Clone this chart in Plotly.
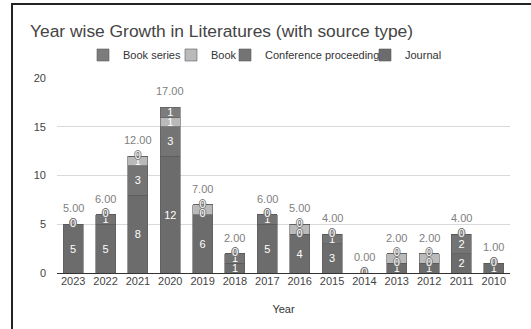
import plotly.graph_objects as go

years = ["2023", "2022", "2021", "2020", "2019", "2018", "2017", "2016", "2015", "2014", "2013", "2012", "2011", "2010"]
journal = [5, 5, 8, 12, 6, 1, 5, 4, 3, 0, 1, 1, 2, 1]
conference = [0, 1, 3, 3, 0, 1, 1, 0, 1, 0, 0, 0, 2, 0]
book = [0, 0, 1, 1, 1, 0, 0, 1, 0, 0, 1, 1, 0, 0]
book_series = [0, 0, 0, 1, 0, 0, 0, 0, 0, 0, 0, 0, 0, 0]
totals = [a + b + c + d for a, b, c, d in zip(journal, conference, book, book_series)]

FONT = "Liberation Sans, Arial, sans-serif"
pos = list(range(len(years)))
W, H = 531, 329
ml, mr, mt, mb = 57, 21, 78, 56
pw, ph = W - ml - mr, H - mt - mb
def px_x(p): return (p - ml) / pw
def px_y(p): return (H - mb - p) / ph

# (name, values, colour, legend id, legend text start px)
series = [
    ("Journal", journal, "#6c6c6c", "legend4", 407),
    ("Conference proceeding", conference, "#747474", "legend3", 267),
    ("Book", book, "#bababa", "legend2", 213),
    ("Book series", book_series, "#7c7c7c", "legend", 125),
]

fig = go.Figure()
for name, vals, color, leg, tx in series:
    fig.add_trace(go.Bar(
        x=pos, y=vals, name=name, marker=dict(color=color, line=dict(width=0.6, color="#5a5a5a")),
        text=[str(v) if v > 0 else "" for v in vals],
        textposition="inside", insidetextanchor="middle", textangle=0,
        constraintext="none",
        textfont=dict(color="white", size=11, family=FONT),
        legend=leg, hoverinfo="skip",
    ))

# zero-value segment labels at the stack position where they occur
zx, zy = [], []
for i in pos:
    cum = 0
    for s in series:
        vals = s[1]
        if vals[i] == 0:
            zx.append(i)
            zy.append(cum)
        cum += vals[i]
fig.add_trace(go.Scatter(
    x=zx, y=zy, mode="text", text=["0"] * len(zx), showlegend=False,
    textposition="middle center",
    textfont=dict(color="white", size=11, family=FONT,
                  shadow="1px 0px 0 #777, -1px 0px 0 #777, 0px 1px 0 #777, 0px -1px 0 #777"),
    hoverinfo="skip",
))

annotations = []
for i, t in zip(pos, totals):
    annotations.append(dict(x=i, y=t, xref="x", yref="y", text=f"{t:.2f}", showarrow=False, yshift=16,
                            font=dict(size=11, color="#808080", family=FONT)))

shapes = [
    dict(type="line", xref="paper", yref="paper", x0=px_x(11), x1=px_x(W + 5), y0=px_y(4), y1=px_y(4),
         line=dict(color="#222", width=2)),
    dict(type="line", xref="paper", yref="paper", x0=px_x(12), x1=px_x(12), y0=px_y(3), y1=px_y(H + 5),
         line=dict(color="#222", width=2)),
]

legends = {}
for name, vals, color, leg, tx in series:
    legends[leg] = dict(orientation="h", x=px_x(tx - 42), xanchor="left",
                        y=px_y(55), yanchor="middle",
                        font=dict(size=11, color="#333", family=FONT),
                        itemwidth=30, bgcolor="rgba(0,0,0,0)", borderwidth=0)

fig.update_layout(
    width=W, height=H, barmode="stack", bargap=0.38,
    margin=dict(l=ml, r=mr, t=mt, b=mb, autoexpand=False),
    paper_bgcolor="white", plot_bgcolor="white",
    font=dict(family=FONT, size=11, color="#444"),
    title=dict(text="Year wise Growth in Literatures (with source type)", x=30 / W,
               xanchor="left", y=1 - 31 / H, yanchor="middle",
               font=dict(size=17.4, color="#444", family=FONT)),
    xaxis=dict(title=dict(text="Year", font=dict(size=11, color="#333"), standoff=19),
               range=[-0.5, len(years) - 0.5], tickmode="array", tickvals=pos, ticktext=years,
               showgrid=False, showline=False, ticks="", zeroline=False,
               tickfont=dict(size=11, color="#444")),
    yaxis=dict(range=[0, 20], dtick=5, showgrid=True, gridcolor="#d9d9d9", gridwidth=1,
               zeroline=True, zerolinecolor="#333", zerolinewidth=1, ticks="",
               tickfont=dict(size=11, color="#444"), ticklabelstandoff=10),
    annotations=annotations, shapes=shapes,
    **legends,
)

fig.write_html("out.html")
